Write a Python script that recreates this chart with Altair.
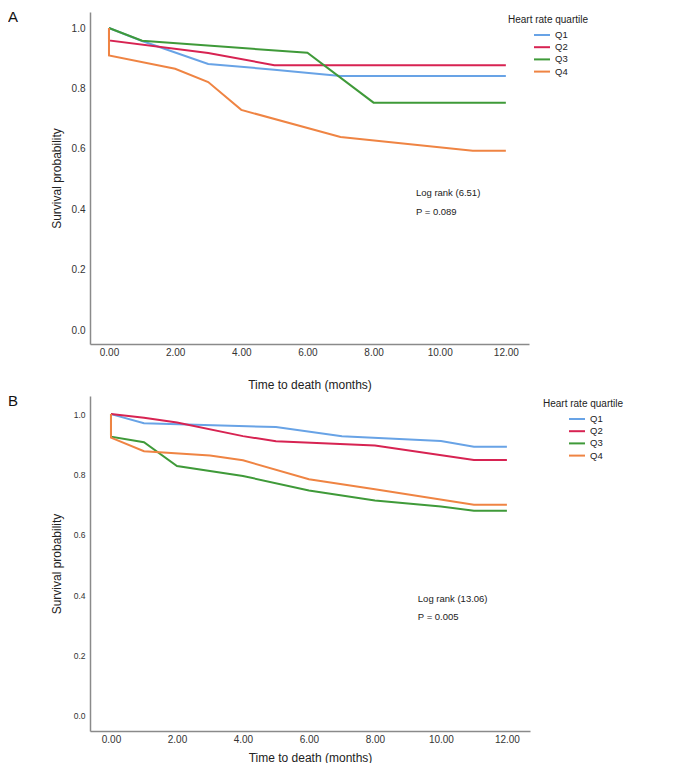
import altair as alt
import pandas as pd

groups = ["Q1", "Q2", "Q3", "Q4"]
colors = ["#68A3E6", "#D72352", "#3F9A39", "#EF8443"]
panel_letters = ["A", "B"]
legend_title = "Heart rate quartile"
x_title = "Time to death (months)"
y_title = "Survival probability"

# Panel A (time in months, survival probability)
a_q1_t = [0, 1, 3, 5, 7, 12]
a_q1_s = [1.0, 0.957, 0.881, 0.862, 0.841, 0.841]
a_q2_t = [0, 0, 3, 5, 12]
a_q2_s = [1.0, 0.959, 0.917, 0.877, 0.877]
a_q3_t = [0, 1, 6, 8, 12]
a_q3_s = [1.0, 0.958, 0.918, 0.753, 0.753]
a_q4_t = [0, 0, 2, 3, 4, 7, 11, 12]
a_q4_s = [1.0, 0.909, 0.865, 0.821, 0.729, 0.639, 0.594, 0.594]
a_notes = ["Log rank (6.51)", "P = 0.089"]
a_note_t = [9.28, 9.28]
a_note_s = [0.454, 0.391]

# Panel B
b_q1_t = [0, 1, 5, 7, 10, 11, 12]
b_q1_s = [1.0, 0.970, 0.957, 0.927, 0.911, 0.892, 0.892]
b_q2_t = [0, 1, 2, 4, 5, 8, 11, 12]
b_q2_s = [1.0, 0.988, 0.972, 0.927, 0.910, 0.896, 0.848, 0.848]
b_q3_t = [0, 0, 1, 2, 4, 6, 8, 10, 11, 12]
b_q3_s = [1.0, 0.925, 0.907, 0.828, 0.795, 0.747, 0.714, 0.694, 0.680, 0.680]
b_q4_t = [0, 0, 1, 3, 4, 6, 8, 11, 12]
b_q4_s = [1.0, 0.922, 0.877, 0.863, 0.847, 0.784, 0.751, 0.700, 0.700]
b_notes = ["Log rank (13.06)", "P = 0.005"]
b_note_t = [9.3, 9.3]
b_note_s = [0.387, 0.328]

x_ticks = [0, 2, 4, 6, 8, 10, 12]
y_ticks = [0.0, 0.2, 0.4, 0.6, 0.8, 1.0]

FONT = "Liberation Sans"


def build_df(series):
    rows = []
    for g, (t, s) in zip(groups, series):
        for i, (tt, ss) in enumerate(zip(t, s)):
            rows.append({"group": g, "time": tt, "surv": ss, "idx": i})
    return pd.DataFrame(rows)


def panel(df, notes, note_t, note_s, letter, width, height, xdom, ydom,
          ylab_size, x_title_pad, y_title_pad, leg_x, leg_title_x):
    x_enc = alt.X("time:Q", scale=alt.Scale(domain=xdom, nice=False, zero=False),
                  axis=alt.Axis(values=x_ticks, format=".2f", ticks=False, grid=False,
                                domainColor="#8a8a8a", domainWidth=1.5,
                                labelFontSize=10, labelColor="#333333", labelPadding=3,
                                title=x_title, titleFontSize=12, titleFontWeight="normal",
                                titleColor="#222222", titlePadding=x_title_pad))
    y_enc = alt.Y("surv:Q", scale=alt.Scale(domain=ydom, nice=False, zero=False),
                  axis=alt.Axis(values=y_ticks, format=".1f", ticks=False, grid=False,
                                domainColor="#8a8a8a", domainWidth=1.5,
                                labelFontSize=ylab_size, labelColor="#333333", labelPadding=5,
                                title=y_title, titleFontSize=12, titleFontWeight="normal",
                                titleColor="#222222", titlePadding=y_title_pad))
    lines = alt.Chart(df).mark_line(strokeWidth=2).encode(
        x=x_enc, y=y_enc, order="idx:Q",
        color=alt.Color("group:N", scale=alt.Scale(domain=groups, range=colors),
                        legend=alt.Legend(title=None, orient="none", legendX=leg_x, legendY=17,
                                          symbolType="M-1.6,0L1.6,0", symbolSize=100,
                                          symbolStrokeWidth=2, labelFontSize=9.5,
                                          labelColor="#222222", labelOffset=7,
                                          rowPadding=1.2, padding=0)),
    )
    ndf = pd.DataFrame({"label": notes, "time": note_t, "surv": note_s})
    note_layer = alt.Chart(ndf).mark_text(align="left", baseline="middle", fontSize=9.5,
                                          color="#222222").encode(
        x=alt.X("time:Q"), y=alt.Y("surv:Q"), text="label:N")
    ltitle = alt.Chart(pd.DataFrame({"label": [legend_title]})).mark_text(
        align="left", baseline="middle", fontSize=10, color="#222222").encode(
        x=alt.value(leg_title_x), y=alt.value(8), text="label:N")
    letter_layer = alt.Chart(pd.DataFrame({"label": [letter]})).mark_text(
        align="left", baseline="middle", fontSize=15, color="#111111").encode(
        x=alt.value(-82), y=alt.value(5), text="label:N")
    return alt.layer(lines, note_layer, ltitle, letter_layer).properties(width=width, height=height)


dfA = build_df([(a_q1_t, a_q1_s), (a_q2_t, a_q2_s), (a_q3_t, a_q3_s), (a_q4_t, a_q4_s)])
dfB = build_df([(b_q1_t, b_q1_s), (b_q2_t, b_q2_s), (b_q3_t, b_q3_s), (b_q4_t, b_q4_s)])

pA = panel(dfA, a_notes, a_note_t, a_note_s, panel_letters[0], 439, 332,
           [-0.574, 12.70], [-0.046, 1.053], 10, 22, 8, 446, 418)
pB = panel(dfB, b_notes, b_note_t, b_note_s, panel_letters[1], 440, 335,
           [-0.636, 12.70], [-0.050, 1.060], 8.5, 8, 10, 481, 453)

chart = alt.vconcat(pA, pB, spacing=4).resolve_scale(color="independent").resolve_legend(
    color="independent").properties(
    padding={"left": 0, "top": 2, "right": 5, "bottom": 0}
).configure(font=FONT).configure_view(stroke=None)

chart.save("out.html", embed_options={"renderer": "svg", "actions": False})
